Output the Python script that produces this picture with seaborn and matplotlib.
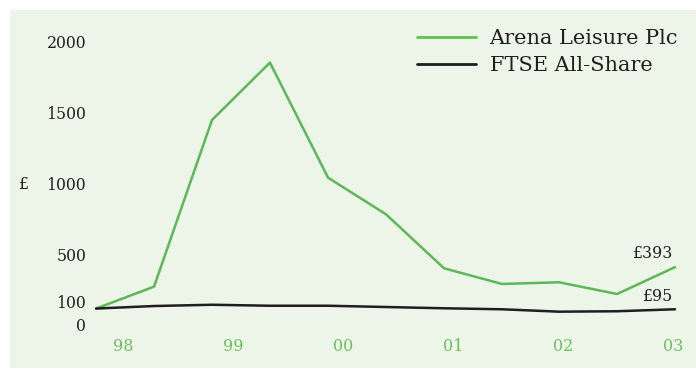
import matplotlib
matplotlib.use("Agg")
import matplotlib.pyplot as plt
import seaborn as sns
import pandas as pd
from matplotlib.patches import Rectangle
from matplotlib.lines import Line2D

# ---- data ----
periods = [1997.755, 1998.282, 1998.809, 1999.336, 1999.864, 2000.391,
           2000.918, 2001.445, 2001.964, 2002.491, 2003.018]
arena = [100, 255, 1434, 1840, 1026, 767, 385, 274, 286, 203, 393]
ftse = [100, 118, 127, 120, 120, 111, 102, 95, 78, 81, 95]
series_names = ["Arena Leisure Plc", "FTSE All-Share"]
year_ticks = [1998, 1999, 2000, 2001, 2002, 2003]
year_labels = ["98", "99", "00", "01", "02", "03"]
y_ticks = [0, 100, 500, 1000, 1500, 2000]
y_labels = ["0", "100", "500", "1000", "1500", "2000"]
end_labels = ["£393", "£95"]

df = pd.DataFrame({
    "period": periods * 2,
    "value": arena + ftse,
    "series": [series_names[0]] * len(arena) + [series_names[1]] * len(ftse),
})

sns.set_theme(style="white")
plt.rcParams["font.family"] = ["DejaVu Serif"]

W, H = 696, 369
fig = plt.figure(figsize=(W / 100, H / 100), dpi=100, facecolor="white")
fig.patches.append(Rectangle((10 / W, 1 / H), 1 - 10 / W, (368 - 10) / H,
                             transform=fig.transFigure, facecolor="#edf5e8",
                             edgecolor="none", zorder=-10))

ax_l, ax_r, ax_t, ax_b = 90, 690, 20, 330
ax = fig.add_axes([ax_l / W, 1 - ax_b / H, (ax_r - ax_l) / W, (ax_b - ax_t) / H])
ax.set_facecolor("none")

green = "#5cb857"
black = "#1f1d1e"
sns.lineplot(data=df, x="period", y="value", hue="series",
             palette={series_names[0]: green, series_names[1]: black},
             linewidth=1.8, ax=ax, legend=False, clip_on=False)

pxyr = 110.0
ax.set_xlim(1998 + (ax_l - 123) / pxyr, 1998 + (ax_r - 123) / pxyr)
zero_px, pxu = 322.7, 282.7 / 2000
ax.set_ylim((zero_px - ax_b) / pxu, (zero_px - ax_t) / pxu)

for s in ax.spines.values():
    s.set_visible(False)
ax.set_xlabel("")
ax.set_ylabel("")
ax.set_xticks(year_ticks)
ax.set_xticklabels(year_labels)
ax.tick_params(axis="x", length=0, pad=5.5, labelsize=11.5, labelcolor="#6cc05f")
ax.set_yticks([])

y_offsets = {0: -4, 100: 5, 500: -4, 1000: -4, 1500: -4, 2000: -4}
for v, lab in zip(y_ticks, y_labels):
    ax.annotate(lab, xy=(0, v), xycoords=ax.get_yaxis_transform(),
                xytext=(-4, y_offsets[v]), textcoords="offset pixels",
                ha="right", va="center", fontsize=11.3, color="#231f20")

fig.text(24 / W, 1 - 185 / H, "£", ha="center", va="center",
         fontsize=11.3, color="#231f20")

ax.annotate(end_labels[0], xy=(periods[-1], arena[-1]), xytext=(-2, 14),
            textcoords="offset pixels", ha="right", va="center",
            fontsize=11.3, color="#231f20")
ax.annotate(end_labels[1], xy=(periods[-1], ftse[-1]), xytext=(-2, 13),
            textcoords="offset pixels", ha="right", va="center",
            fontsize=11.3, color="#231f20")

handles = [Line2D([], [], color="#62c150", lw=2.0),
           Line2D([], [], color=black, lw=2.0)]
fig.legend(handles, series_names, loc="upper right",
           bbox_to_anchor=(678 / W, 1 - 29 / H), frameon=False,
           fontsize=15, handlelength=2.8, handletextpad=0.67,
           labelspacing=0.38, borderpad=0, borderaxespad=0,
           labelcolor="#231f20")

fig.savefig("out.png", dpi=100)
